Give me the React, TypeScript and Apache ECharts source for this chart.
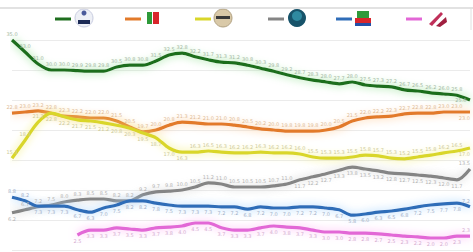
import React, { useEffect, useRef } from "react";
import * as echarts from "echarts";

const periods = Array.from({ length: 36 }, (_, i) => "P" + (i + 1));

const lega = [35.0, 33.0, 31.0, 30.0, 30.0, 29.9, 29.8, 29.8, 30.5, 30.8, 30.8, 31.5, 32.5, 32.8, 32.2, 31.7, 31.3, 31.2, 30.8, 30.3, 29.8, 29.2, 28.7, 28.3, 28.0, 27.7, 28.0, 27.5, 27.3, 27.2, 26.7, 26.5, 26.2, 26.0, 25.8, 25.0];
const pd = [22.8, 23.0, 23.2, 22.8, 22.3, 22.2, 22.0, 22.0, 21.5, 20.5, 19.7, 20.0, 20.8, 21.3, 21.2, 21.0, 21.0, 20.8, 20.5, 20.2, 20.0, 19.8, 19.8, 19.8, 20.0, 20.5, 21.5, 22.0, 22.2, 22.3, 22.7, 22.8, 22.8, 23.0, 23.0, 23.0];
const m5s = [15.3, 18.3, 21.3, 22.8, 22.2, 21.7, 21.5, 21.2, 20.8, 20.3, 19.5, 18.7, 17.0, 16.3, 16.3, 16.5, 16.3, 16.2, 16.2, 16.3, 16.2, 16.2, 16.0, 15.5, 15.3, 15.3, 15.5, 15.8, 15.7, 15.3, 15.2, 15.5, 15.8, 16.2, 16.5, 17.0];
const fdi = [6.2, 6.7, 7.2, 7.5, 8.0, 8.3, 8.5, 8.5, 8.2, 8.2, 9.2, 9.7, 9.8, 10.0, 10.5, 11.2, 11.0, 10.5, 10.5, 10.5, 10.7, 11.0, 11.7, 12.2, 12.7, 13.3, 13.8, 13.5, 13.2, 12.8, 12.7, 12.5, 12.3, 12.0, 11.7, 13.5];
const fi = [8.8, 8.2, 7.3, 7.3, 7.3, 6.7, 6.3, 7.0, 7.5, 8.2, 8.2, 7.8, 7.5, 7.3, 7.3, 7.3, 7.2, 7.2, 6.8, 7.2, 7.0, 7.0, 7.2, 7.2, 7.0, 6.7, 5.8, 6.0, 6.3, 6.5, 6.8, 7.2, 7.5, 7.7, 7.8, 7.2];
const iv = [null, null, null, null, null, 2.5, 3.3, 3.3, 3.7, 3.5, 3.3, 3.7, 3.8, 4.0, 4.5, 4.5, 3.7, 3.3, 3.3, 3.7, 4.0, 3.8, 3.7, 3.3, 3.0, 3.0, 2.8, 2.8, 2.7, 2.5, 2.3, 2.2, 2.0, 2.0, 2.3, 2.3];

const seriesNames = ["Lega", "PD", "M5S", "FdI", "FI", "IV"];
const seriesColors = ["#1f6e1f", "#e27a2a", "#d9d62a", "#858585", "#2f6db8", "#e267d6"];
const glowColors = ["#8fe08f", "#ffc890", "#f4f07a", "#d0d0d0", "#9fd0ff", "#ffb0f4"];
const labelColors = ["#a3b8a3", "#e0bc98", "#cfca98", "#b4b4b4", "#a2b0c8", "#d4acd0"];

export default function App() {
  const ref = useRef<HTMLDivElement>(null);
  useEffect(() => {
    if (!ref.current) return;
    const chart = echarts.init(ref.current, undefined, { renderer: "svg" });
    const datasets = [lega, pd, m5s, fdi, fi, iv];
    const positions = ["top", "top", "top", "top", "bottom", "bottom"];
    const series = datasets.map((d, si) => ({
      name: seriesNames[si],
      type: "line",
      smooth: 0.3,
      clip: false,
      symbol: "circle",
      symbolSize: 1,
      showSymbol: true,
      connectNulls: false,
      data: d.map((v, i) => {
        if (v === null) return null;
        let pos = positions[si];
        if (si === 3 && i >= 22) pos = "bottom";
        if (si === 2 && i >= 3 && i <= 13) pos = "bottom";
        if (i === 0 && si === 3) pos = "bottom";
        if (i <= 1 && si === 4) pos = "top";
        const lab: any = {};
        if (i === d.length - 1) {
          lab.align = "right";
          pos = pos === "top" ? "bottom" : "top";
          if (si === 0) {
            pos = "left";
            lab.align = undefined;
          }
        }
        lab.position = pos;
        return { value: v, label: lab };
      }),
      lineStyle: {
        width: 3.2,
        color: seriesColors[si],
        shadowColor: glowColors[si],
        shadowBlur: 8,
      },
      itemStyle: { color: "rgba(0,0,0,0)" },
      label: {
        show: true,
        fontSize: 5,
        distance: 3,
        color: labelColors[si],
        fontFamily: "DejaVu Sans",
        formatter: (p: any) => Number(p.value).toFixed(1),
      },
      z: 2,
    }));

    const legendX = [55, 125, 195, 268, 336, 406];
    const legendGraphics: any[] = [];
    legendX.forEach((x, i) => {
      legendGraphics.push({
        type: "line",
        shape: { x1: x, y1: 19, x2: x + 16, y2: 19 },
        style: { stroke: seriesColors[i], lineWidth: 3 },
      });
    });
    legendGraphics.push(
      { type: "circle", shape: { cx: 84, cy: 18, r: 9 }, style: { fill: "#eef0f6", stroke: "#c8cce0", lineWidth: 1 } },
      { type: "rect", shape: { x: 78, y: 20, width: 12, height: 4 }, style: { fill: "#1b2a55" } },
      { type: "circle", shape: { cx: 84, cy: 13, r: 2.5 }, style: { fill: "#4a5a9a" } },
      { type: "rect", shape: { x: 146, y: 11, width: 14, height: 14 }, style: { fill: "#ffffff" } },
      { type: "rect", shape: { x: 147, y: 12, width: 5, height: 12 }, style: { fill: "#2e9a3a" } },
      { type: "rect", shape: { x: 153, y: 12, width: 6, height: 12 }, style: { fill: "#d8262c" } },
      { type: "circle", shape: { cx: 223, cy: 18, r: 9 }, style: { fill: "#d9c9a8", stroke: "#b0a080", lineWidth: 1 } },
      { type: "rect", shape: { x: 216, y: 16, width: 14, height: 3 }, style: { fill: "#3a3a3a" } },
      { type: "circle", shape: { cx: 297, cy: 18, r: 9 }, style: { fill: "#17536a" } },
      { type: "circle", shape: { cx: 297, cy: 16, r: 5 }, style: { fill: "#2f8aa0" } },
      { type: "rect", shape: { x: 357, y: 11, width: 12, height: 7 }, style: { fill: "#2e9a3a" } },
      { type: "rect", shape: { x: 355, y: 18, width: 16, height: 5 }, style: { fill: "#d8262c" } },
      { type: "rect", shape: { x: 355, y: 23, width: 16, height: 3 }, style: { fill: "#2350a8" } },
      { type: "polygon", shape: { points: [[429, 24], [441, 12], [443, 14], [432, 26]] }, style: { fill: "#c0305a" } },
      { type: "polygon", shape: { points: [[436, 26], [446, 17], [447, 22], [440, 27]] }, style: { fill: "#a02040" } },
      { type: "line", shape: { x1: 0, y1: 8, x2: 473, y2: 8 }, style: { stroke: "#d8d8d8", lineWidth: 1.5 } },
      { type: "line", shape: { x1: 471, y1: 8, x2: 471, y2: 30 }, style: { stroke: "#e0e0e0", lineWidth: 1 } }
    );

    chart.setOption({
      animation: false,
      backgroundColor: "#ffffff",
      grid: { left: 12, right: 3, top: 40, bottom: 2 },
      xAxis: {
        type: "category",
        data: periods,
        boundaryGap: false,
        axisLine: { show: false },
        axisTick: { show: false },
        axisLabel: { show: false },
        splitLine: { show: false },
      },
      yAxis: {
        type: "value",
        min: 0,
        max: 35,
        interval: 5,
        axisLine: { show: false },
        axisTick: { show: false },
        axisLabel: { show: false },
        splitLine: { show: true, lineStyle: { color: "#ebebeb", width: 1 } },
      },
      graphic: legendGraphics,
      series,
    });
    return () => chart.dispose();
  }, []);
  return <div ref={ref} style={{ width: 473, height: 252, position: "absolute", left: 0, top: 0 }} />;
}
